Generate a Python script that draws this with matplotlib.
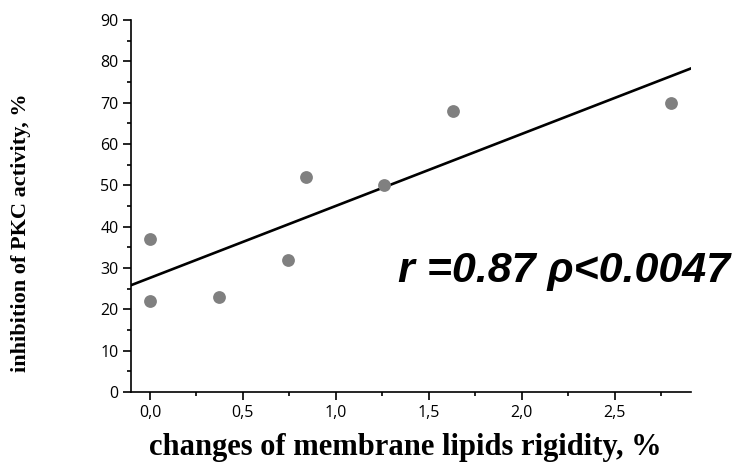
import numpy as np
import matplotlib.pyplot as plt
from matplotlib.ticker import MultipleLocator, FuncFormatter

rigidity = [0.0, 0.0, 0.37, 0.74, 0.84, 1.26, 1.63, 2.80]
pkc_inhibition = [22, 37, 23, 32, 52, 50, 68, 70]
stat_text = 'r =0.87 ρ<0.0047'

fig = plt.figure(figsize=(7.45, 4.71), dpi=100)
ax = fig.add_axes([0.1758, 0.1677, 0.7517, 0.7898])

x_min, x_max = -0.102, 2.909
slope, intercept = np.polyfit(rigidity, pkc_inhibition, 1)
line_x = np.array([x_min, x_max])
ax.plot(line_x, slope * line_x + intercept, color='black', linewidth=1.9)
ax.scatter(rigidity, pkc_inhibition, s=85, color='#808080', zorder=3, linewidths=0)

ax.set_xlim(x_min, x_max)
ax.set_ylim(0, 90)

for side in ['top', 'right']:
    ax.spines[side].set_visible(False)
for side in ['left', 'bottom']:
    ax.spines[side].set_linewidth(1.2)

ax.xaxis.set_major_locator(MultipleLocator(0.5))
ax.xaxis.set_minor_locator(MultipleLocator(0.25))
ax.yaxis.set_major_locator(MultipleLocator(10))
ax.yaxis.set_minor_locator(MultipleLocator(5))
ax.xaxis.set_major_formatter(FuncFormatter(lambda v, p: f'{v:.1f}'.replace('.', ',')))
ax.yaxis.set_major_formatter(FuncFormatter(lambda v, p: f'{v:.0f}'))

ax.tick_params(which='major', length=6, width=1.2, labelsize=11.5, pad=3)
ax.tick_params(which='minor', length=3, width=1.2)
for lbl in ax.get_xticklabels() + ax.get_yticklabels():
    lbl.set_fontfamily('Open Sans')

ax.set_xlabel('changes of membrane lipids rigidity, %', fontsize=22,
              fontfamily='Liberation Serif', fontweight='bold', va='center')
ax.xaxis.set_label_coords(0.49, -0.15)
ax.set_ylabel('inhibition of PKC activity, %', fontsize=16,
              fontfamily='Liberation Serif', fontweight='bold', va='center')
ax.yaxis.set_label_coords(-0.197, 0.427)

ax.text(1.333, 26.5, stat_text, fontsize=31, fontfamily='Liberation Sans',
        fontweight='bold', fontstyle='italic', va='baseline', ha='left')

fig.savefig('out.png', dpi=100)
